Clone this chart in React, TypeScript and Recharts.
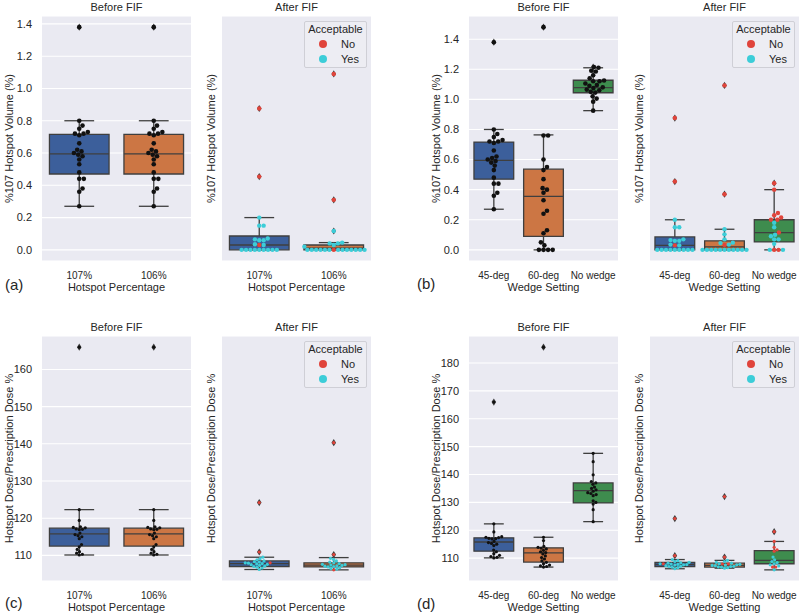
import React from 'react';
import {
  ComposedChart,
  XAxis,
  YAxis,
  CartesianGrid,
  Scatter,
  ReferenceArea,
  ReferenceLine,
} from 'recharts';

const FONT = '"Liberation Sans", Arial, Helvetica, sans-serif';
const TEXT = '#262626';
const EDGE = '#3f3f3f';
const BG = '#EAEAF2';
const BOX_COLORS = ['#3C5F9B', '#CC7644', '#3E8C4E'];
const HUE_COLORS: Record<string, string> = { none: '#111111', No: '#E0443B', Yes: '#3CCDD8' };

// ---------- categories & ticks ----------
const pctCategories = ['107%', '106%'];
const wedgeCategories = ['45-deg', '60-deg', 'No wedge'];
const volumeTicks = [0, 0.2, 0.4, 0.6, 0.8, 1.0, 1.2, 1.4];
const doseTicksC = [110, 120, 130, 140, 150, 160];
const doseTicksD = [110, 120, 130, 140, 150, 160, 170, 180];

// ---------- %107 hotspot volume: before FIF ----------
const volBefore107 = [1.38, 0.8, 0.77, 0.75, 0.73, 0.72, 0.72, 0.71, 0.66, 0.62, 0.61, 0.6, 0.59, 0.58, 0.56, 0.53, 0.48, 0.44, 0.44, 0.38, 0.36, 0.27];
const volBefore106 = [1.38, 0.8, 0.77, 0.75, 0.73, 0.72, 0.72, 0.71, 0.66, 0.62, 0.61, 0.6, 0.59, 0.58, 0.56, 0.53, 0.48, 0.44, 0.44, 0.38, 0.36, 0.27];
const volBefore60 = [1.48, 0.76, 0.76, 0.6, 0.55, 0.53, 0.47, 0.41, 0.4, 0.38, 0.33, 0.26, 0.24, 0.13, 0.11, 0.05, 0.03, 0, 0, 0, 0];
const volBeforeNoWedge = [1.215, 1.21, 1.19, 1.185, 1.16, 1.14, 1.125, 1.12, 1.12, 1.105, 1.095, 1.09, 1.08, 1.075, 1.065, 1.06, 1.05, 1.045, 1.02, 1.005, 0.985, 0.925];
// box stats: [lower whisker, Q1, median, Q3, upper whisker]
const volBeforeBox107 = [0.27, 0.47, 0.595, 0.716, 0.8];
const volBeforeBox106 = [0.27, 0.47, 0.595, 0.716, 0.8];
const volBeforeBox60 = [0, 0.09, 0.355, 0.536, 0.764];
const volBeforeBoxNoWedge = [0.925, 1.044, 1.078, 1.127, 1.21];

// ---------- %107 hotspot volume: after FIF ----------
const volAfter107No = [0.876, 0.454, 0.03];
const volAfter107Yes = [0.2, 0.15, 0.15, 0.07, 0.065, 0.06, 0.06, 0.035, 0.03, 0, 0, 0, 0, 0, 0, 0, 0, 0];
const volAfterBox107 = [0, 0, 0.03, 0.086, 0.2];
const volAfter106No = [1.09, 0.31, 0];
const volAfter106Yes = [0.117, 0.045, 0.04, 0.04, 0.03, 0.02, 0, 0, 0, 0, 0, 0, 0, 0, 0, 0, 0, 0, 0];
const volAfterBox106 = [0, 0, 0.01, 0.03, 0.045];
const volAfter60No = [1.093, 0.37, 0.033];
const volAfter60Yes = [0.137, 0.103, 0.07, 0.048, 0.045, 0.035, 0, 0, 0, 0, 0, 0, 0, 0, 0, 0, 0];
const volAfterBox60 = [0, 0, 0.02, 0.06, 0.137];
const volAfterNoWedgeNo = [0.443, 0.4, 0.245, 0.23, 0.215, 0.2, 0.2, 0.115, 0, 0];
const volAfterNoWedgeYes = [0.18, 0.15, 0.1, 0.09, 0.07, 0.07, 0.04, 0, 0];
const volAfterBoxNoWedge = [0, 0.053, 0.114, 0.2, 0.4];

// ---------- hotspot dose / prescription dose: before FIF ----------
const doseBefore107 = [166.0, 122.3, 119.4, 117.7, 117.5, 117.4, 117.1, 117.0, 116.9, 116.0, 115.6, 115.3, 115.0, 114.5, 112.9, 112.3, 111.6, 111.0, 110.6, 110.3, 110.1];
const doseBefore106 = [166.0, 122.3, 119.4, 117.7, 117.5, 117.4, 117.1, 117.0, 116.9, 116.0, 115.6, 115.3, 115.0, 114.5, 112.9, 112.3, 111.6, 111.0, 110.6, 110.3, 110.1];
const doseBefore60 = [185.7, 117.5, 116.3, 114.2, 113.9, 113.6, 113.3, 112.8, 112.3, 112.0, 111.5, 110.8, 110.2, 109.7, 109.0, 108.5, 108.0, 107.5, 107.2, 107.0, 106.8];
const doseBeforeNoWedge = [147.6, 144.6, 139.9, 137.5, 137.0, 136.5, 135.5, 135.0, 134.5, 134.0, 133.5, 133.2, 132.8, 132.4, 130.6, 130.0, 129.4, 127.4, 123.1];
const doseBeforeBox107 = [110.1, 112.5, 115.8, 117.3, 122.3];
const doseBeforeBox106 = [110.1, 112.5, 115.8, 117.3, 122.3];
const doseBeforeBox60 = [106.8, 108.6, 111.9, 113.7, 117.5];
const doseBeforeBoxNoWedge = [123.1, 129.8, 134.2, 137.0, 147.6];

// ---------- hotspot dose / prescription dose: after FIF ----------
const doseAfter107No = [124.2, 110.9, 108.0];
const doseAfter107Yes = [109.5, 109.1, 108.8, 108.5, 108.3, 108.2, 108.0, 107.9, 107.8, 107.7, 107.6, 107.5, 107.3, 107.1, 107.0, 106.8, 106.6, 106.2];
const doseAfterBox107 = [106.2, 107.0, 107.8, 108.5, 109.5];
const doseAfter106No = [140.3, 110.2, 106.1];
const doseAfter106Yes = [109.2, 108.9, 108.5, 108.2, 108.0, 107.8, 107.6, 107.5, 107.4, 107.3, 107.2, 107.1, 107.0, 106.9, 106.7, 106.5, 106.3];
const doseAfterBox106 = [106.1, 106.9, 107.4, 108.0, 109.4];
const doseAfter60No = [132.1, 110.4, 107.9, 107.9];
const doseAfter60Yes = [109.2, 108.8, 108.5, 108.2, 108.0, 107.8, 107.6, 107.5, 107.4, 107.3, 107.1, 107.0, 106.9, 106.8, 106.6, 106.4];
const doseAfterBox60 = [106.4, 106.8, 107.4, 108.2, 109.2];
const doseAfterNoWedgeNo = [119.5, 116.0, 113.9, 113.0, 112.5, 106.8, 106.8];
const doseAfterNoWedgeYes = [110.4, 109.4, 108.8, 108.4, 108.0, 107.6, 107.2, 105.8];
const doseAfterBoxNoWedge = [105.8, 108.0, 109.2, 112.7, 116.0];

// ---------- helpers ----------
type Hue = 'none' | 'No' | 'Yes';
interface Pt { value: number; hue: Hue }
const mk = (values: number[], hue: Hue): Pt[] => values.map((value) => ({ value, hue }));

function paddedDomain(groups: Pt[][]): [number, number] {
  const all = groups.flat().map((p) => p.value);
  const lo = Math.min(...all);
  const hi = Math.max(...all);
  const pad = (hi - lo) * 0.05;
  return [lo - pad, hi + pad];
}

// seaborn-like beeswarm: returns horizontal offsets (in category units)
function beeswarm(values: number[], r: number, ppuY: number, ppuX: number): number[] {
  const order = values.map((_, i) => i).sort((a, b) => values[a] - values[b]);
  const placed: { x: number; y: number }[] = [];
  const offsets = new Array(values.length).fill(0);
  const d = 2 * r;
  for (const i of order) {
    const y = values[i] * ppuY;
    const near = placed.filter((p) => Math.abs(p.y - y) < d);
    const cands = [0];
    near.forEach((p) => {
      const dx = Math.sqrt(Math.max(0, d * d - (p.y - y) ** 2));
      cands.push(p.x + dx, p.x - dx);
    });
    cands.sort((a, b) => Math.abs(a) - Math.abs(b));
    const ok = cands.find((c) => near.every((p) => (p.x - c) ** 2 + (p.y - y) ** 2 >= d * d - 1e-6));
    const x = ok ?? 0;
    placed.push({ x, y });
    offsets[i] = x / ppuX;
  }
  return offsets;
}

const PLOT_W = 149;
const PLOT_H = 245;
const AXIS_W = 42;
const TITLE_H = 16;
const XAXIS_H = 40;
const RIGHT = 4;
const W = AXIS_W + PLOT_W + RIGHT;
const H = TITLE_H + PLOT_H + XAXIS_H;

interface PanelProps {
  plotLeft: number;
  plotTop: number;
  title: string;
  yLabel: string;
  xLabel: string;
  categories: string[];
  boxes: number[][];
  groups: Pt[][];
  domain: [number, number];
  ticks: number[];
  tickFmt: (v: number) => string;
  showTicks: boolean;
  legend: boolean;
  r: number;
}

function Panel(p: PanelProps) {
  const n = p.categories.length;
  const ppuX = PLOT_W / n;
  const ppuY = PLOT_H / (p.domain[1] - p.domain[0]);
  const points: { x: number; y: number; hue: Hue }[] = [];
  const fliers: { x: number; y: number }[] = [];
  p.groups.forEach((g, i) => {
    const offs = beeswarm(g.map((q) => q.value), p.r, ppuY, ppuX);
    const lo = p.boxes[i][0];
    const hi = p.boxes[i][4];
    g.forEach((q, k) => {
      points.push({ x: i + offs[k], y: q.value, hue: q.hue });
      if (q.value > hi + 1e-9 || q.value < lo - 1e-9) fliers.push({ x: i, y: q.value });
    });
  });
  const xTicks = p.categories.map((_, i) => i);
  const textStyle = { fontSize: 11, fill: TEXT, fontFamily: FONT };

  const dotShape = (props: any) => (
    <circle cx={props.cx} cy={props.cy} r={p.r} fill={HUE_COLORS[props.payload.hue]} />
  );
  const diamondShape = (props: any) => {
    const { cx, cy } = props;
    return (
      <path
        d={`M${cx},${cy - 3.6} L${cx + 2.3},${cy} L${cx},${cy + 3.6} L${cx - 2.3},${cy} Z`}
        fill={EDGE}
      />
    );
  };

  return (
    <div style={{ position: 'absolute', left: p.plotLeft - AXIS_W, top: p.plotTop - TITLE_H, width: W, height: H }}>
      <ComposedChart width={W} height={H} margin={{ top: TITLE_H, right: RIGHT, bottom: 0, left: 0 }}>
        <CartesianGrid vertical={false} stroke="#ffffff" strokeWidth={1.1} fill={BG} />
        <XAxis
          type="number"
          dataKey="x"
          domain={[-0.5, n - 0.5]}
          ticks={xTicks}
          interval={0}
          allowDataOverflow
          tickFormatter={(v: number) => p.categories[Math.round(v)] ?? ''}
          axisLine={false}
          tickLine={false}
          tickSize={0}
          tickMargin={11}
          height={XAXIS_H}
          tick={{ fontSize: 10, fill: TEXT, fontFamily: FONT }}
          label={{ value: p.xLabel, position: 'insideBottom', offset: 10, style: textStyle }}
        />
        <YAxis
          type="number"
          dataKey="y"
          domain={p.domain}
          ticks={p.ticks}
          interval={0}
          allowDataOverflow
          width={AXIS_W}
          axisLine={false}
          tickLine={false}
          tickSize={0}
          tickMargin={10}
          tick={p.showTicks ? textStyle : false}
          tickFormatter={p.tickFmt}
          label={{
            value: p.yLabel,
            angle: -90,
            position: 'insideLeft',
            offset: p.showTicks ? 9 : 31,
            style: { ...textStyle, textAnchor: 'middle' },
          }}
        />
        {p.boxes.map((b, i) => (
          <ReferenceArea
            key={`box${i}`}
            x1={i - 0.4}
            x2={i + 0.4}
            y1={b[1]}
            y2={b[3]}
            fill={BOX_COLORS[i]}
            fillOpacity={1}
            stroke={EDGE}
            strokeWidth={1.3}
            ifOverflow="visible"
          />
        ))}
        {p.boxes.map((b, i) => (
          <ReferenceLine key={`wl${i}`} segment={[{ x: i, y: b[0] }, { x: i, y: b[1] }]} stroke={EDGE} strokeWidth={1.3} ifOverflow="visible" />
        ))}
        {p.boxes.map((b, i) => (
          <ReferenceLine key={`wh${i}`} segment={[{ x: i, y: b[3] }, { x: i, y: b[4] }]} stroke={EDGE} strokeWidth={1.3} ifOverflow="visible" />
        ))}
        {p.boxes.map((b, i) => (
          <ReferenceLine key={`cl${i}`} segment={[{ x: i - 0.2, y: b[0] }, { x: i + 0.2, y: b[0] }]} stroke={EDGE} strokeWidth={1.3} ifOverflow="visible" />
        ))}
        {p.boxes.map((b, i) => (
          <ReferenceLine key={`ch${i}`} segment={[{ x: i - 0.2, y: b[4] }, { x: i + 0.2, y: b[4] }]} stroke={EDGE} strokeWidth={1.3} ifOverflow="visible" />
        ))}
        {p.boxes.map((b, i) => (
          <ReferenceLine key={`md${i}`} segment={[{ x: i - 0.4, y: b[2] }, { x: i + 0.4, y: b[2] }]} stroke={EDGE} strokeWidth={1.3} ifOverflow="visible" />
        ))}
        <Scatter data={fliers} dataKey="y" isAnimationActive={false} shape={diamondShape} />
        <Scatter data={points} dataKey="y" isAnimationActive={false} shape={dotShape} />
      </ComposedChart>
      <div
        style={{
          position: 'absolute',
          left: AXIS_W,
          top: 0,
          width: PLOT_W,
          height: 14,
          lineHeight: '14px',
          textAlign: 'center',
          fontFamily: FONT,
          fontSize: 11,
          color: TEXT,
        }}
      >
        {p.title}
      </div>
      {p.legend && (
        <div
          style={{
            position: 'absolute',
            left: AXIS_W + PLOT_W - 4 - 63,
            top: TITLE_H + 5,
            width: 61,
            height: 45,
            border: '1px solid #CFCFD6',
            borderRadius: 2,
            background: '#EDEDF3',
            fontFamily: FONT,
            fontSize: 11,
            color: TEXT,
          }}
        >
          <div style={{ position: 'absolute', left: 0, top: 0, width: 61, textAlign: 'center', lineHeight: '14px' }}>Acceptable</div>
          {(['No', 'Yes'] as Hue[]).map((h, k) => (
            <div key={h} style={{ position: 'absolute', left: 0, top: 15 + k * 14.5, height: 14, width: 61 }}>
              <span
                style={{
                  position: 'absolute',
                  left: 14,
                  top: 3,
                  width: 8,
                  height: 8,
                  borderRadius: 4,
                  background: HUE_COLORS[h],
                }}
              />
              <span style={{ position: 'absolute', left: 36, top: 0, lineHeight: '14px' }}>{h}</span>
            </div>
          ))}
        </div>
      )}
    </div>
  );
}

const volFmt = (v: number) => v.toFixed(1);
const doseFmt = (v: number) => String(v);

export default function App() {
  // (a)
  const aBefore = [mk(volBefore107, 'none'), mk(volBefore106, 'none')];
  const aAfter = [
    [...mk(volAfter107No, 'No'), ...mk(volAfter107Yes, 'Yes')],
    [...mk(volAfter106No, 'No'), ...mk(volAfter106Yes, 'Yes')],
  ];
  const aDomain = paddedDomain([...aBefore, ...aAfter]);
  // (b)
  const bBefore = [mk(volBefore107, 'none'), mk(volBefore60, 'none'), mk(volBeforeNoWedge, 'none')];
  const bAfter = [
    [...mk(volAfter107No, 'No'), ...mk(volAfter107Yes, 'Yes')],
    [...mk(volAfter60No, 'No'), ...mk(volAfter60Yes, 'Yes')],
    [...mk(volAfterNoWedgeNo, 'No'), ...mk(volAfterNoWedgeYes, 'Yes')],
  ];
  const bDomain = paddedDomain([...bBefore, ...bAfter]);
  // (c)
  const cBefore = [mk(doseBefore107, 'none'), mk(doseBefore106, 'none')];
  const cAfter = [
    [...mk(doseAfter107No, 'No'), ...mk(doseAfter107Yes, 'Yes')],
    [...mk(doseAfter106No, 'No'), ...mk(doseAfter106Yes, 'Yes')],
  ];
  const cDomain = paddedDomain([...cBefore, ...cAfter]);
  // (d)
  const dBefore = [mk(doseBefore107, 'none'), mk(doseBefore60, 'none'), mk(doseBeforeNoWedge, 'none')];
  const dAfter = [
    [...mk(doseAfter107No, 'No'), ...mk(doseAfter107Yes, 'Yes')],
    [...mk(doseAfter60No, 'No'), ...mk(doseAfter60Yes, 'Yes')],
    [...mk(doseAfterNoWedgeNo, 'No'), ...mk(doseAfterNoWedgeYes, 'Yes')],
  ];
  const dDomain = paddedDomain([...dBefore, ...dAfter]);

  const volLabel = '%107 Hotspot Volume (%)';
  const doseLabel = 'Hotspot Dose/Prescription Dose %';
  const letterStyle = (left: number, top: number): React.CSSProperties => ({
    position: 'absolute',
    left,
    top,
    fontFamily: FONT,
    fontSize: 15,
    color: TEXT,
    lineHeight: '18px',
  });

  return (
    <div style={{ position: 'absolute', left: 0, top: 0, width: 800, height: 616, background: '#ffffff', overflow: 'hidden' }}>
      <Panel plotLeft={42} plotTop={16} title="Before FIF" yLabel={volLabel} xLabel="Hotspot Percentage" categories={pctCategories}
        boxes={[volBeforeBox107, volBeforeBox106]} groups={aBefore} domain={aDomain} ticks={volumeTicks} tickFmt={volFmt} showTicks legend={false} r={2.3} />
      <Panel plotLeft={222} plotTop={16} title="After FIF" yLabel={volLabel} xLabel="Hotspot Percentage" categories={pctCategories}
        boxes={[volAfterBox107, volAfterBox106]} groups={aAfter} domain={aDomain} ticks={volumeTicks} tickFmt={volFmt} showTicks={false} legend r={2.2} />
      <Panel plotLeft={469} plotTop={16} title="Before FIF" yLabel={volLabel} xLabel="Wedge Setting" categories={wedgeCategories}
        boxes={[volBeforeBox107, volBeforeBox60, volBeforeBoxNoWedge]} groups={bBefore} domain={bDomain} ticks={volumeTicks} tickFmt={volFmt} showTicks legend={false} r={2.3} />
      <Panel plotLeft={650} plotTop={16} title="After FIF" yLabel={volLabel} xLabel="Wedge Setting" categories={wedgeCategories}
        boxes={[volAfterBox107, volAfterBox60, volAfterBoxNoWedge]} groups={bAfter} domain={bDomain} ticks={volumeTicks} tickFmt={volFmt} showTicks={false} legend r={2.2} />

      <Panel plotLeft={42} plotTop={336} title="Before FIF" yLabel={doseLabel} xLabel="Hotspot Percentage" categories={pctCategories}
        boxes={[doseBeforeBox107, doseBeforeBox106]} groups={cBefore} domain={cDomain} ticks={doseTicksC} tickFmt={doseFmt} showTicks legend={false} r={1.6} />
      <Panel plotLeft={222} plotTop={336} title="After FIF" yLabel={doseLabel} xLabel="Hotspot Percentage" categories={pctCategories}
        boxes={[doseAfterBox107, doseAfterBox106]} groups={cAfter} domain={cDomain} ticks={doseTicksC} tickFmt={doseFmt} showTicks={false} legend r={1.6} />
      <Panel plotLeft={469} plotTop={336} title="Before FIF" yLabel={doseLabel} xLabel="Wedge Setting" categories={wedgeCategories}
        boxes={[doseBeforeBox107, doseBeforeBox60, doseBeforeBoxNoWedge]} groups={dBefore} domain={dDomain} ticks={doseTicksD} tickFmt={doseFmt} showTicks legend={false} r={1.6} />
      <Panel plotLeft={650} plotTop={336} title="After FIF" yLabel={doseLabel} xLabel="Wedge Setting" categories={wedgeCategories}
        boxes={[doseAfterBox107, doseAfterBox60, doseAfterBoxNoWedge]} groups={dAfter} domain={dDomain} ticks={doseTicksD} tickFmt={doseFmt} showTicks={false} legend r={1.6} />

      <div style={letterStyle(5, 276)}>(a)</div>
      <div style={letterStyle(417, 275)}>(b)</div>
      <div style={letterStyle(5, 594)}>(c)</div>
      <div style={letterStyle(417, 595)}>(d)</div>
    </div>
  );
}
